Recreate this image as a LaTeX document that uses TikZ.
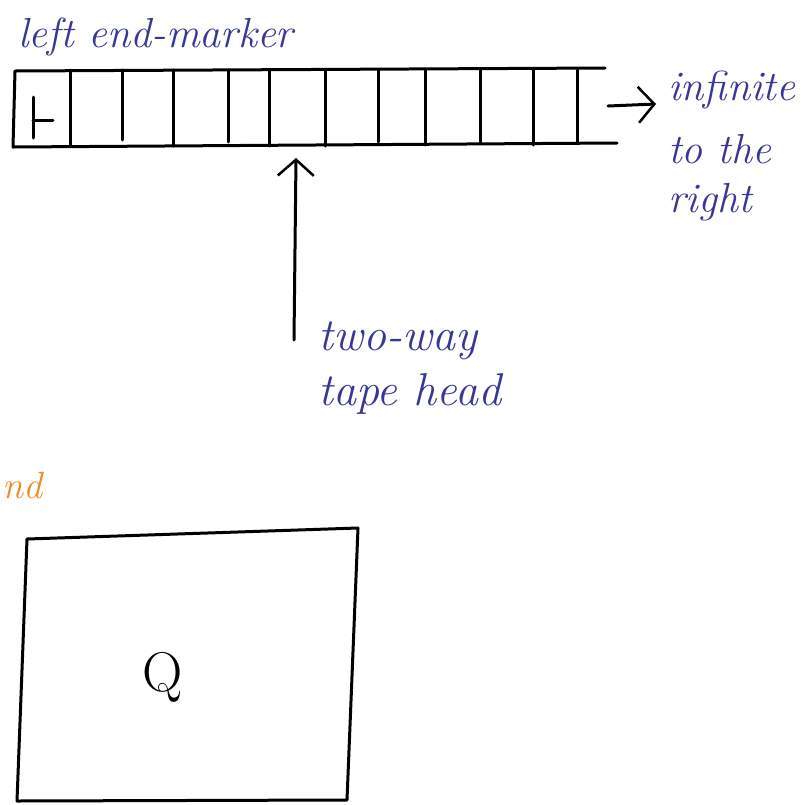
\documentclass[tikz,border=0pt]{standalone}
\usetikzlibrary{arrows.meta}
\definecolor{ink}{RGB}{55,55,150}
\definecolor{orangeink}{RGB}{238,140,40}
\tikzset{
  pen/.style={line width=3pt, line cap=round, line join=round, black},
  lbl/.style={inner sep=0pt, ink, font=\fontsize{42}{48}\selectfont\itshape, anchor=base west},
  openhead/.style={-{Straight Barb[length=16pt,width=36pt,line width=2.5pt]}}
}
\begin{document}
\begin{tikzpicture}[x=1pt,y=-1pt]
\useasboundingbox (0,0) rectangle (812,804);
% tape
\coordinate (tl) at (15,71);
\coordinate (tr) at (605,68);
\coordinate (bl) at (13,147);
\coordinate (br) at (617,143);
\draw[pen] (tr) -- (tl) -- (bl) -- (br);
\foreach \x/\b in {70/146,122/140,173/146,228/142,269/146,325/146,378/142,425/145,480/142,533/145,577/143}{
  \draw[pen] (\x,70) -- (\x,\b);
}
% left end-marker symbol
\draw[pen] (33,97) -- (33,138);
\draw[pen] (33,120) -- (53,120);
% labels
\node[lbl] (lem) at (18,47) {left end-marker};
\node[lbl] (inf1) at (668,100) {infinite};
\node[lbl] (inf2) at (668,163) {to the};
\node[lbl] (inf3) at (668,212) {right};
% arrow to right
\coordinate (ra) at (608,106);
\coordinate (rb) at (656,104);
\draw[pen, openhead] (ra) -- (rb);
% tape head arrow
\coordinate (hb) at (294,340);
\coordinate (ht) at (296,158);
\draw[pen, openhead] (hb) -- (ht);
\node[lbl, font=\fontsize{46}{52}\selectfont\itshape] (tw1) at (318,350) {two-way};
\node[lbl, font=\fontsize{46}{52}\selectfont\itshape] (tw2) at (318,405) {tape head};
% orange text at the left edge
\node[lbl, orangeink, font=\fontsize{38}{44}\selectfont\itshape] (nd) at (2,498) {nd};
% finite control box
\coordinate (q1) at (27,539);
\coordinate (q2) at (358,528);
\coordinate (q3) at (347,800);
\coordinate (q4) at (17,801);
\draw[pen] (q1) -- (q2) -- (q3) -- (q4) -- cycle;
\node[inner sep=0pt, font=\fontsize{56}{60}\selectfont] (Q) at (163,677) {Q};
\end{tikzpicture}
\end{document}
